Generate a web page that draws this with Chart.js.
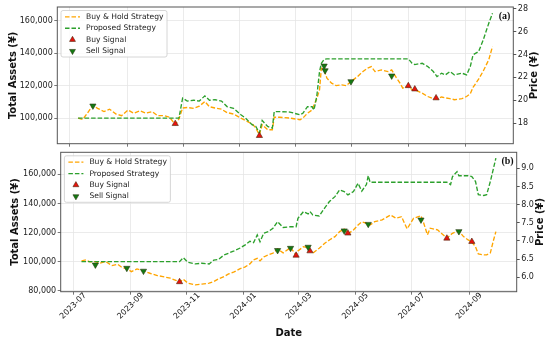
<!DOCTYPE html>
<html>
<head>
<meta charset="utf-8">
<script src="https://cdn.jsdelivr.net/npm/chart.js@4.4.1/dist/chart.umd.min.js"></script>
<style>
  body { margin: 0; background: #fff; }
  #wrap { position: relative; width: 550px; height: 343px; }
  #topChart { position: absolute; left: 0; top: 0; }
  #bottomChart { position: absolute; left: 0; top: 146px; }
</style>
</head>
<body>
<div id="wrap">
  <canvas id="topChart" width="550" height="150"></canvas>
  <canvas id="bottomChart" width="550" height="197"></canvas>
</div>
<script>
// ---- panel (a) ----
const topDates = ['2023-07-10','2023-07-15','2023-07-20','2023-07-26','2023-07-31',
  '2023-08-07','2023-08-13','2023-08-20','2023-08-26',
  '2023-09-02','2023-09-08','2023-09-15','2023-09-21','2023-09-28',
  '2023-10-04','2023-10-11','2023-10-17','2023-10-23','2023-10-27','2023-10-31',
  '2023-11-05','2023-11-12','2023-11-18','2023-11-24','2023-11-29',
  '2023-12-05','2023-12-12','2023-12-18','2023-12-25',
  '2024-01-02','2024-01-07','2024-01-14','2024-01-18','2024-01-22','2024-01-25','2024-01-31',
  '2024-02-05','2024-02-07','2024-02-13','2024-02-24',
  '2024-03-06','2024-03-09','2024-03-14','2024-03-19','2024-03-21','2024-03-24','2024-03-27','2024-03-29',
  '2024-04-01','2024-04-04','2024-04-09','2024-04-14','2024-04-20','2024-04-25','2024-04-30',
  '2024-05-07','2024-05-13','2024-05-18','2024-05-22','2024-05-26',
  '2024-06-02','2024-06-09','2024-06-13','2024-06-18','2024-06-22','2024-06-25',
  '2024-07-01','2024-07-05','2024-07-08','2024-07-16','2024-07-22','2024-07-28',
  '2024-08-01','2024-08-06','2024-08-10','2024-08-15','2024-08-20','2024-08-28',
  '2024-09-02','2024-09-06','2024-09-09','2024-09-15','2024-09-20','2024-09-26','2024-09-30'];
const topHold = [100000,99200,103000,108000,106000,
  104000,105500,102500,101500,
  105000,103000,104500,103000,104000,
  101500,101500,100500,96000,99500,106200,
  106500,106000,107300,110200,107000,
  106200,105500,103400,102500,
  100000,98500,96500,94000,89700,95900,92800,
  92800,100500,100500,100000,
  99000,100000,103000,105000,108000,112000,117400,130800,
  129700,124600,121500,120000,120500,120000,122500,
  125600,128700,130800,131800,128700,
  129700,128700,129700,125000,121500,118500,
  120000,117400,117500,115400,113300,112000,
  111700,113000,112500,112000,111300,112000,
  113300,115000,119000,124000,129000,136000,144100];
const topProp = [100000,100000,100000,100000,100000,
  100000,100000,100000,100000,
  100000,100000,100000,100000,100000,
  100000,100000,100000,100000,100000,112300,
  110500,111000,110500,113700,111000,
  111300,110500,107100,106000,
  102000,100000,95900,95000,90800,98500,94800,
  93800,104000,104000,103700,
  102000,103000,107000,107000,105000,113300,128700,133800,
  136300,136500,136500,136500,136500,136500,136500,
  136500,136500,136500,136500,136500,
  136500,136500,136500,136500,136500,136500,
  136500,133800,133000,133800,131800,128700,
  125600,127700,126600,128700,126600,127700,
  126600,131800,139000,141000,148200,158500,164600];
const topBuyDates = ['2023-10-23','2024-01-22','2024-07-01','2024-07-08','2024-07-31'];
const topBuyPrices = [17.94, 16.89, 21.26, 20.97, 20.19];
const topSellDates = ['2023-07-26','2024-04-01','2024-04-02','2024-04-30','2024-06-13'];
const topSellPrices = [19.51, 23.01, 22.6, 21.64, 22.14];
const topAssetTicks = [100000, 120000, 140000, 160000];
const topPriceTicks = [18, 20, 22, 24, 26, 28];

// ---- panel (b) ----
const botDates = ['2023-07-10','2023-07-15','2023-07-19','2023-07-25','2023-07-30',
  '2023-08-05','2023-08-12','2023-08-18','2023-08-23','2023-08-28',
  '2023-09-02','2023-09-08','2023-09-15','2023-09-22','2023-09-30',
  '2023-10-06','2023-10-14','2023-10-20','2023-10-24','2023-10-28',
  '2023-11-02','2023-11-10','2023-11-17','2023-11-25','2023-11-30',
  '2023-12-05','2023-12-11','2023-12-16','2023-12-22','2023-12-28',
  '2024-01-03','2024-01-08','2024-01-12','2024-01-16','2024-01-19','2024-01-23','2024-01-28',
  '2024-02-02','2024-02-07','2024-02-13','2024-02-21','2024-02-27','2024-02-29',
  '2024-03-06','2024-03-11','2024-03-13','2024-03-16','2024-03-23','2024-03-29',
  '2024-04-03','2024-04-09','2024-04-14','2024-04-19','2024-04-23','2024-04-29',
  '2024-05-04','2024-05-08','2024-05-13','2024-05-15','2024-05-17','2024-05-22','2024-05-30',
  '2024-06-08','2024-06-14','2024-06-20','2024-06-26',
  '2024-07-03','2024-07-11','2024-07-14','2024-07-18','2024-07-21','2024-07-29',
  '2024-08-02','2024-08-08','2024-08-12','2024-08-14','2024-08-19','2024-08-21','2024-08-26','2024-08-31',
  '2024-09-04','2024-09-08','2024-09-11','2024-09-17','2024-09-20','2024-09-24','2024-09-27','2024-09-30'];
const botHold = [100500,101200,99800,100000,98900,
  100000,97300,98200,95900,95000,
  93100,95000,93600,92000,90400,
  89700,88600,87100,85800,87900,
  85200,84000,84500,85200,86300,
  88100,89700,91500,92900,95000,
  96400,98400,101200,102300,100500,103200,104600,
  105800,108700,106000,109600,104600,107400,
  110300,109400,107400,105800,109200,112600,
  114900,117200,120600,122300,119000,121800,
  125200,127300,126400,126400,125200,127500,128700,
  132100,129800,130900,122500,
  129800,131600,126400,118400,123000,121800,
  119500,116100,118400,119500,120600,121100,117200,114900,
  113500,110100,105300,104600,104600,106000,113700,120600];
const botProp = [100000,100000,100000,100000,100000,
  100000,100000,100000,100000,100000,
  100000,100000,100000,100000,100000,
  100000,100000,100000,100000,102700,
  99500,98400,98900,98400,101000,
  101500,104500,105800,107400,109200,
  111500,114000,113000,118300,113700,119500,120600,
  123000,127500,123500,124000,124000,129800,
  134400,132800,134400,132100,131400,137000,
  141300,144700,149400,148200,145900,148200,
  153900,148500,153000,159100,154600,154600,154600,
  154600,154600,154600,154600,
  154600,154600,154600,154600,154600,154600,
  154600,154600,153000,158400,161900,159100,159100,159100,
  158500,155100,146000,145500,146000,155100,163100,171200];
const botBuyDates = ['2023-10-24','2024-02-27','2024-03-13','2024-04-23','2024-08-08','2024-09-04'];
const botBuyPrices = [5.87, 6.60, 6.72, 7.21, 7.07, 6.98];
const botSellDates = ['2023-07-25','2023-08-28','2023-09-15','2024-02-07','2024-02-21',
  '2024-03-11','2024-04-19','2024-05-15','2024-07-11','2024-08-21'];
const botSellPrices = [6.34, 6.25, 6.17, 6.74, 6.80, 6.83, 7.28, 7.46, 7.58, 7.26];
const botAssetTicks = [80000, 100000, 120000, 140000, 160000];
const botPriceTicks = [6.0, 6.5, 7.0, 7.5, 8.0, 8.5, 9.0];

// shared date ticks
const tickMonths = ['2023-07','2023-09','2023-11','2024-01','2024-03','2024-05','2024-07','2024-09'];

const FONT = '"DejaVu Sans", sans-serif';
const HOLD = '#FFA500';
const PROP = '#2ca02c';
const FRAME = '#555';

function dayNum(s) {
    return (Date.parse(s) - Date.parse('2023-07-01')) / 86400000;
}
function pairs(dates, vals) {
    return dates.map((d, i) => ({ x: dayNum(d), y: vals[i] }));
}

function triangle(ctx, x, y, r, down) {
    var s = down ? -1 : 1;
    ctx.beginPath();
    ctx.moveTo(x, y - s * r);
    ctx.lineTo(x + r * 0.866, y + s * r / 2);
    ctx.lineTo(x - r * 0.866, y + s * r / 2);
    ctx.closePath();
    ctx.fill();
    ctx.stroke();
}

// frame, legend, titles, panel tag, date labels
const decor = {
    id: 'decor',
    afterDraw(chart, args, o) {
        const ctx = chart.ctx, a = chart.chartArea;
        ctx.save();
        ctx.strokeStyle = FRAME;
        ctx.lineWidth = 1;
        ctx.strokeRect(a.left, a.top, a.right - a.left, a.bottom - a.top);

        // legend
        ctx.font = '7.6px ' + FONT;
        var ds = chart.data.datasets;
        var w = 0;
        ds.forEach(d => { w = Math.max(w, ctx.measureText(d.label).width) });
        var bx = a.left + 3.7, by = a.top + 3.5, bw = 25 + w + 3.5, bh = 46.5;
        ctx.beginPath();
        ctx.roundRect(bx, by, bw, bh, 2);
        ctx.fillStyle = 'rgba(255,255,255,0.85)';
        ctx.fill();
        ctx.strokeStyle = '#cccccc';
        ctx.lineWidth = 0.8;
        ctx.stroke();
        ds.forEach((d, i) => {
            var cy = by + 6.3 + i * 11.45;
            if (d.showLine === false) {
                ctx.fillStyle = d.pointBackgroundColor;
                ctx.strokeStyle = d.pointBorderColor;
                ctx.lineWidth = d.pointBorderWidth;
                triangle(ctx, bx + 11.5, cy, 3.4, d.pointRotation === 180);
            } else {
                ctx.strokeStyle = d.borderColor;
                ctx.lineWidth = d.borderWidth;
                ctx.setLineDash(d.borderDash);
                ctx.beginPath();
                ctx.moveTo(bx + 4, cy);
                ctx.lineTo(bx + 19, cy);
                ctx.stroke();
                ctx.setLineDash([]);
            }
            ctx.fillStyle = '#222';
            ctx.textAlign = 'left';
            ctx.textBaseline = 'middle';
            ctx.fillText(d.label, bx + 25, cy);
        });

        // panel tag
        ctx.font = 'bold 10px "Liberation Serif", serif';
        ctx.fillStyle = '#111';
        ctx.textAlign = 'right';
        ctx.fillText(o.tag, a.right - 3, a.top + 9.5);

        // axis titles
        var cy = (a.top + a.bottom) / 2;
        ctx.font = 'bold 10px ' + FONT;
        ctx.textAlign = 'center';
        ctx.textBaseline = 'middle';
        ctx.save();
        ctx.translate(o.leftTitleX, cy);
        ctx.rotate(-Math.PI / 2);
        ctx.fillText('Total Assets (¥)', 0, 0);
        ctx.restore();
        ctx.save();
        ctx.translate(o.rightTitleX, cy);
        ctx.rotate(-Math.PI / 2);
        ctx.fillText('Price (¥)', 0, 0);
        ctx.restore();

        if (o.dates) {
            var sx = chart.scales.x;
            ctx.font = '8px ' + FONT;
            tickMonths.forEach(m => {
                var x = sx.getPixelForValue(dayNum(m + '-01'));
                ctx.save();
                ctx.translate(x, o.dateY);
                ctx.rotate(-Math.PI / 4);
                ctx.fillText(m, 0, 0);
                ctx.restore();
            });
            ctx.font = 'bold 10px ' + FONT;
            ctx.fillText('Date', (a.left + a.right) / 2, o.dateTitleY);
        }
        ctx.restore();
    }
};

function makePanel(id, p) {
    return new Chart(document.getElementById(id), {
        type: 'line',
        data: {
            datasets: [
                { label: 'Buy & Hold Strategy', data: pairs(p.dates, p.hold), yAxisID: 'y',
                  borderColor: HOLD, borderWidth: 1.35, borderDash: [4.5, 2], pointRadius: 0, order: 3 },
                { label: 'Proposed Strategy', data: pairs(p.dates, p.prop), yAxisID: 'y',
                  borderColor: PROP, borderWidth: 1.35, borderDash: [4.5, 2], pointRadius: 0, order: 2 },
                { label: 'Buy Signal', data: pairs(p.buyDates, p.buyPrices), yAxisID: 'yp', showLine: false,
                  pointStyle: 'triangle', pointRadius: 3.6, pointBackgroundColor: '#e8120c',
                  pointBorderColor: '#4a2a10', pointBorderWidth: 0.6, pointRotation: 0, order: 1 },
                { label: 'Sell Signal', data: pairs(p.sellDates, p.sellPrices), yAxisID: 'yp', showLine: false,
                  pointStyle: 'triangle', pointRadius: 3.6, pointBackgroundColor: '#137a13',
                  pointBorderColor: '#2a3a10', pointBorderWidth: 0.6, pointRotation: 180, order: 0 }
            ]
        },
        options: {
            responsive: false,
            animation: false,
            events: [],
            layout: { autoPadding: false, padding: { top: p.padTop, left: 0, right: 0, bottom: 0 } },
            plugins: {
                legend: { display: false },
                tooltip: { enabled: false },
                decor: p.decor
            },
            scales: {
                x: {
                    type: 'linear', min: -13.5, max: 479.5,
                    afterBuildTicks: s => { s.ticks = tickMonths.map(m => ({ value: dayNum(m + '-01') })) },
                    afterFit: s => { s.height = p.xHeight },
                    ticks: { callback: () => '', padding: 0 },
                    grid: { color: '#e6e6e6', lineWidth: 0.8, tickColor: FRAME, tickLength: 3 },
                    border: { display: false }
                },
                y: {
                    position: 'left', min: p.assetMin, max: p.assetMax,
                    afterBuildTicks: s => { s.ticks = p.assetTicks.map(v => ({ value: v })) },
                    afterFit: s => { s.width = p.leftW },
                    ticks: { font: { family: FONT, size: 8 }, color: '#222', padding: 1.5,
                             callback: v => v.toLocaleString('en-US') },
                    grid: { color: '#e6e6e6', lineWidth: 0.8, tickColor: FRAME, tickLength: 3 },
                    border: { display: false }
                },
                yp: {
                    position: 'right', min: p.priceMin, max: p.priceMax,
                    afterBuildTicks: s => { s.ticks = p.priceTicks.map(v => ({ value: v })) },
                    afterFit: s => { s.width = p.rightW },
                    ticks: { font: { family: FONT, size: 8 }, color: '#222', padding: 1.5,
                             callback: v => p.priceFmt(v) },
                    grid: { drawOnChartArea: false, tickColor: FRAME, tickLength: 3 },
                    border: { display: false }
                }
            }
        },
        plugins: [decor]
    });
}

makePanel('topChart', {
    dates: topDates, hold: topHold, prop: topProp,
    buyDates: topBuyDates, buyPrices: topBuyPrices, sellDates: topSellDates, sellPrices: topSellPrices,
    assetMin: 84200, assetMax: 168500, assetTicks: topAssetTicks,
    priceMin: 16.19, priceMax: 28.17, priceTicks: topPriceTicks, priceFmt: v => String(v),
    padTop: 7, xHeight: 6, leftW: 57.3, rightW: 36.7,
    decor: { tag: '(a)', leftTitleX: 13, rightTitleX: 534, dates: false }
});

makePanel('bottomChart', {
    dates: botDates, hold: botHold, prop: botProp,
    buyDates: botBuyDates, buyPrices: botBuyPrices, sellDates: botSellDates, sellPrices: botSellPrices,
    assetMin: 79300, assetMax: 175200, assetTicks: botAssetTicks,
    priceMin: 5.60, priceMax: 9.44, priceTicks: botPriceTicks, priceFmt: v => v.toFixed(1),
    padTop: 6.3, xHeight: 51.3, leftW: 60.7, rightW: 33.3,
    decor: { tag: '(b)', leftTitleX: 15.5, rightTitleX: 540, dates: true, dateY: 160, dateTitleY: 187 }
});
</script>
</body>
</html>
